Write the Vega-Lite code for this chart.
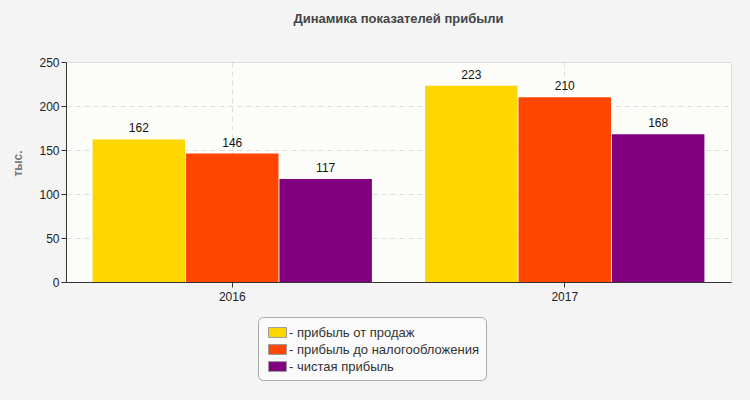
{
  "$schema": "https://vega.github.io/schema/vega-lite/v6.json",
  "autosize": {"type": "none"},
  "width": 665,
  "height": 220,
  "padding": {"left": 66, "top": 62, "right": 19, "bottom": 118},
  "background": "#f4f4f4",
  "title": {
    "text": "Динамика показателей прибыли",
    "font": "Liberation Sans",
    "fontSize": 13,
    "fontWeight": "bold",
    "color": "#444444",
    "anchor": "middle",
    "offset": 30
  },
  "data": {
    "values": [
      {"year": "2016", "series": "прибыль от продаж", "value": 162},
      {"year": "2016", "series": "прибыль до налогообложения", "value": 146},
      {"year": "2016", "series": "чистая прибыль", "value": 117},
      {"year": "2017", "series": "прибыль от продаж", "value": 223},
      {"year": "2017", "series": "прибыль до налогообложения", "value": 210},
      {"year": "2017", "series": "чистая прибыль", "value": 168}
    ]
  },
  "encoding": {
    "x": {
      "field": "year",
      "type": "nominal",
      "title": null,
      "scale": {"paddingInner": 0.16, "paddingOuter": 0.08},
      "axis": {
        "labelAngle": 0,
        "grid": true,
        "gridDash": [5, 4],
        "gridColor": "#dddddd",
        "domainColor": "#333333",
        "tickColor": "#333333",
        "labelPadding": 4
      }
    },
    "xOffset": {
      "field": "series",
      "type": "nominal",
      "sort": ["прибыль от продаж", "прибыль до налогообложения", "чистая прибыль"],
      "scale": {"paddingInner": 0.01}
    },
    "y": {
      "field": "value",
      "type": "quantitative",
      "title": "тыс.",
      "scale": {"domain": [0, 250]},
      "axis": {
        "values": [0, 50, 100, 150, 200, 250],
        "gridDash": [5, 4],
        "gridColor": "#dddddd",
        "domainColor": "#333333",
        "tickColor": "#333333",
        "titleColor": "#777777",
        "titleFontWeight": "bold",
        "titleFontSize": 12,
        "titlePadding": 14,
        "titleY": 101
      }
    }
  },
  "layer": [
    {
      "mark": {"type": "bar"},
      "encoding": {
        "color": {
          "field": "series",
          "type": "nominal",
          "sort": ["прибыль от продаж", "прибыль до налогообложения", "чистая прибыль"],
          "scale": {"range": ["#ffd700", "#ff4500", "#800080"]},
          "legend": {
            "orient": "none",
            "legendX": 192,
            "legendY": 255,
            "title": null,
            "fillColor": "#fafafa",
            "strokeColor": "#aaaaaa",
            "cornerRadius": 5,
            "padding": 6,
            "symbolOffset": 4,
            "symbolType": "M-1,-0.55 h2 v1.1 h-2 Z",
            "symbolSize": 320,
            "symbolStrokeColor": "#999999",
            "symbolStrokeWidth": 1,
            "symbolOpacity": 1,
            "rowPadding": 0,
            "labelOffset": 2,
            "labelFontSize": 13,
            "labelColor": "#333333",
            "labelLimit": 300,
            "labelExpr": "'- ' + datum.label"
          }
        }
      }
    },
    {
      "mark": {"type": "text", "dy": -11, "fontSize": 12, "color": "#111111"},
      "encoding": {"text": {"field": "value", "type": "quantitative"}}
    }
  ],
  "config": {
    "font": "Liberation Sans",
    "view": {"fill": "#fcfcf8", "stroke": "#dddddd"},
    "axis": {"labelFontSize": 12, "labelColor": "#222222", "labelFont": "Liberation Sans"}
  }
}
